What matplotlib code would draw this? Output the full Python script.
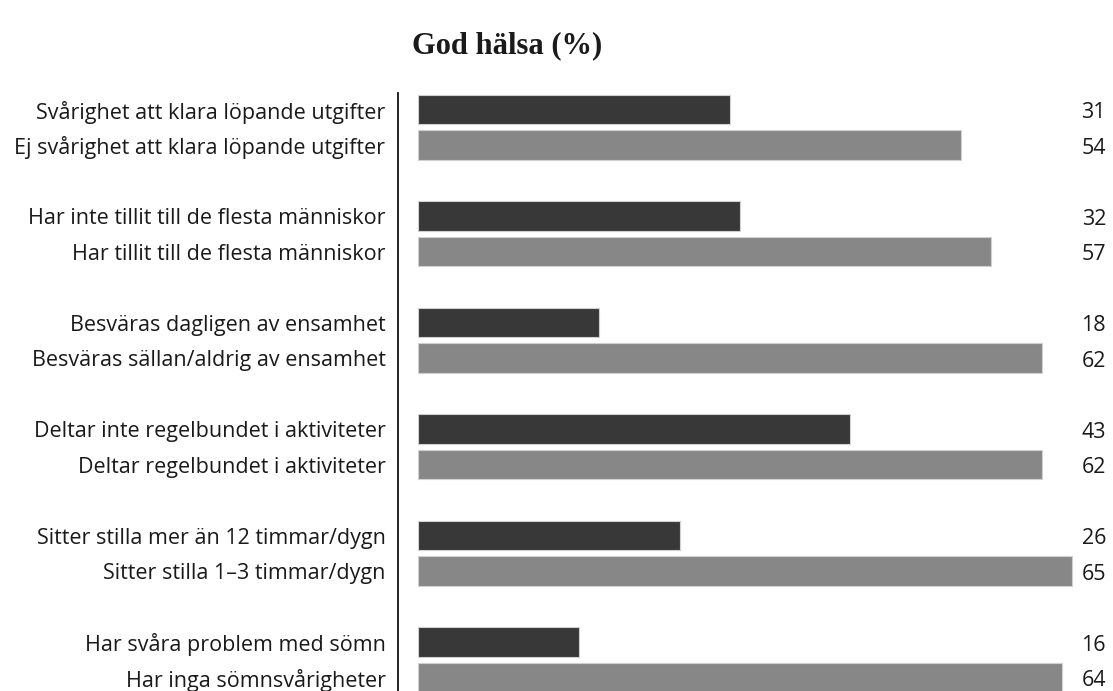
import matplotlib
matplotlib.use("Agg")
import matplotlib.pyplot as plt

title = "God hälsa (%)"
labels = [
    "Svårighet att klara löpande utgifter",
    "Ej svårighet att klara löpande utgifter",
    "Har inte tillit till de flesta människor",
    "Har tillit till de flesta människor",
    "Besväras dagligen av ensamhet",
    "Besväras sällan/aldrig av ensamhet",
    "Deltar inte regelbundet i aktiviteter",
    "Deltar regelbundet i aktiviteter",
    "Sitter stilla mer än 12 timmar/dygn",
    "Sitter stilla 1–3 timmar/dygn",
    "Har svåra problem med sömn",
    "Har inga sömnsvårigheter",
]
values = [31, 54, 32, 57, 18, 62, 43, 62, 26, 65, 16, 64]
colors = ["#383838", "#878787"] * 6

W, H = 1113, 691
fig = plt.figure(figsize=(W / 100, H / 100), dpi=100)
ax = fig.add_axes([398 / W, 0, 1 - 398 / W, 1 - 93 / H])

ypos = [3 * (i // 2) + (i % 2) for i in range(len(values))]
ax.barh(ypos, values, height=0.82, color=colors, edgecolor="#d0d0d0", linewidth=0.8)

ax.set_xlim(-1.99, 69.1)
ax.set_ylim(16.38, -0.465)

ax.set_yticks(ypos)
ax.set_yticklabels(labels, fontfamily="Open Sans", fontsize=15.5, color="#1a1a1a")
ax.tick_params(axis="y", length=0, pad=9)
ax.set_xticks([])
for s in ["top", "right", "bottom"]:
    ax.spines[s].set_visible(False)
ax.spines["left"].set_linewidth(1.3)
ax.spines["left"].set_color("#111111")

for y, v in zip(ypos, values):
    ax.text(68.4, y + 0.02, f"{v}", ha="right", va="center_baseline",
            fontfamily="Open Sans", fontsize=15.5, color="#1a1a1a")

fig.text(507 / W, 1 - 46 / H, title, ha="center", va="center",
         fontfamily="Liberation Serif", fontweight="bold", fontsize=22, color="#1a1a1a")

fig.savefig("out.png", dpi=100)
